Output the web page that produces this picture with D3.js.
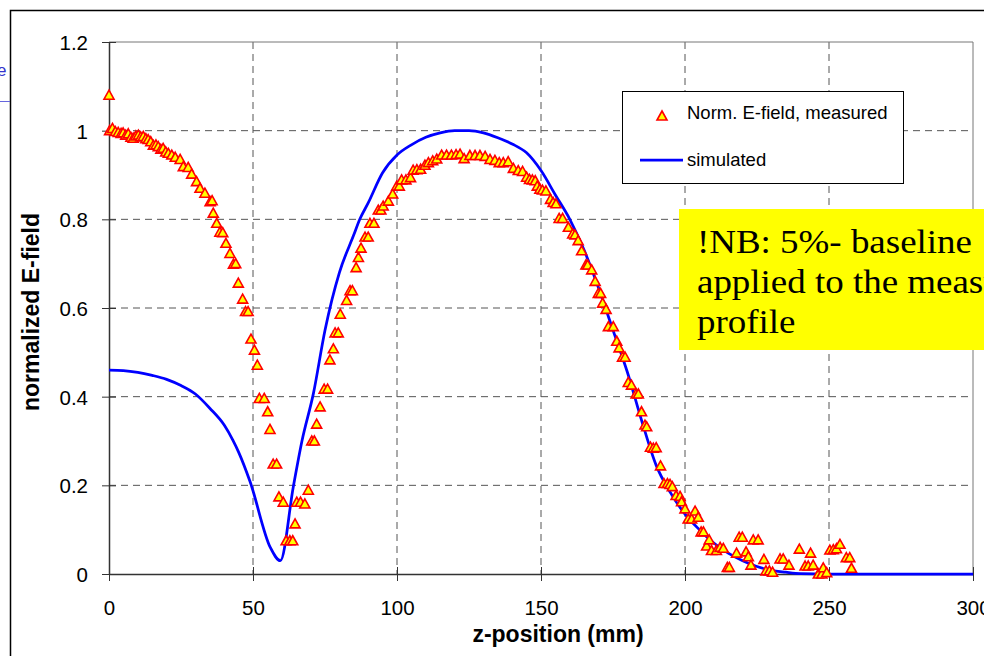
<!DOCTYPE html>
<html><head><meta charset="utf-8">
<script src="https://cdn.jsdelivr.net/npm/d3@7"></script>
<style>body{margin:0;background:#fff}svg{display:block}</style>
</head><body>
<svg id="c" width="984" height="656"></svg>
<script>
// ---- data ----
const xTicks = [0, 50, 100, 150, 200, 250, 300];
const yTicks = [0, 0.2, 0.4, 0.6, 0.8, 1, 1.2];
const yTickLabels = ["0", "0.2", "0.4", "0.6", "0.8", "1", "1.2"];
const seriesNames = ["Norm. E-field, measured", "simulated"];

const simZ = [0, 5, 10, 15, 20, 25, 30, 35, 40, 43, 45, 49, 56, 59.5, 64, 67, 71, 75, 80, 85, 87, 90, 95, 100, 105, 110, 115, 120, 125, 130, 135, 140, 145, 150, 155, 160, 165, 170, 175, 180, 185, 190, 195, 200, 205, 210, 215, 220, 225, 230, 235, 240, 250, 300];
const simE = [0.46, 0.459, 0.455, 0.448, 0.439, 0.425, 0.406, 0.374, 0.336, 0.302, 0.275, 0.208, 0.06, 0.03, 0.197, 0.3, 0.408, 0.55, 0.68, 0.765, 0.799, 0.837, 0.905, 0.945, 0.968, 0.985, 0.995, 1.0, 1.0, 0.995, 0.984, 0.97, 0.95, 0.91, 0.855, 0.8, 0.73, 0.645, 0.55, 0.455, 0.345, 0.245, 0.183, 0.135, 0.1, 0.07, 0.047, 0.03, 0.017, 0.008, 0.004, 0.001, 0, 0];

const measZ = [0, 0.2, 1.2, 2.2, 3.2, 4.2, 4.9, 5.8, 6.7, 7.6, 8.4, 9.3, 10.2, 11.0, 11.9, 12.8, 13.6, 14.5, 15.4, 16.3, 17.1, 18.0, 18.8, 19.7, 20.6, 21.8, 23.0, 24.7, 25.8, 27.5, 28.7, 30.4, 31.6, 33.3, 35.1, 35.8, 36.2, 37.4, 38.5, 39.5, 40.6, 42.0, 43.2, 44.0, 44.9, 46.4, 47.4, 48.3, 49.3, 50.5, 51.5, 52.2, 53.9, 55.1, 55.9, 57.0, 58.2, 59.0, 60.5, 61.5, 62.8, 63.8, 64.6, 65.2, 66.5, 68.0, 69.2, 70.4, 71.3, 72.1, 73.3, 74.7, 75.9, 76.7, 77.9, 78.5, 79.6, 80.3, 82.5, 83.7, 84.5, 85.8, 86.6, 87.5, 88.9, 90.0, 90.6, 92.0, 93.5, 94.4, 95.2, 97.0, 98.5, 99.9, 100.8, 101.6, 103.1, 104.7, 105.6, 106.9, 108.2, 109.7, 110.9, 112.4, 113.8, 115.5, 117.2, 118.9, 120.5, 121.9, 123.3, 125.3, 127.1, 128.8, 130.6, 132.3, 134.0, 135.5, 136.9, 138.6, 140.4, 142.1, 143.6, 145.0, 146.0, 147.0, 148.0, 148.7, 149.6, 150.5, 151.7, 153.3, 154.2, 155.2, 156.3, 157.5, 159.5, 161.0, 161.8, 162.9, 164.1, 165.6, 166.2, 167.6, 168.8, 169.9, 170.7, 171.4, 172.6, 173.4, 175.1, 176.3, 177.1, 178.3, 179.2, 180.3, 181.4, 183.0, 183.8, 184.9, 186.1, 186.7, 188.0, 189.0, 190.0, 191.5, 192.7, 193.9, 194.8, 195.6, 196.9, 198.3, 198.8, 200.0, 201.1, 202.3, 203.5, 204.6, 205.6, 206.4, 207.5, 208.4, 209.2, 210.9, 212.2, 213.3, 214.7, 215.4, 217.9, 218.8, 219.9, 221.2, 222.0, 222.9, 223.7, 225.4, 227.4, 228.1, 229.3, 230.4, 233.0, 234.1, 236.1, 239.7, 241.7, 242.8, 243.6, 244.5, 246.3, 247.5, 248.0, 249.2, 250.3, 251.5, 252.6, 253.8, 256.0, 257.2, 257.8];
const measE = [1.080, 1.000, 1.005, 0.998, 0.996, 0.994, 0.995, 0.990, 0.993, 0.985, 0.983, 0.988, 0.990, 0.986, 0.987, 0.982, 0.980, 0.975, 0.967, 0.968, 0.964, 0.958, 0.960, 0.952, 0.949, 0.945, 0.940, 0.935, 0.919, 0.917, 0.902, 0.885, 0.870, 0.859, 0.840, 0.842, 0.814, 0.791, 0.771, 0.770, 0.746, 0.723, 0.699, 0.700, 0.656, 0.620, 0.592, 0.592, 0.530, 0.505, 0.471, 0.396, 0.396, 0.366, 0.326, 0.248, 0.248, 0.174, 0.162, 0.075, 0.075, 0.075, 0.113, 0.162, 0.162, 0.158, 0.189, 0.300, 0.300, 0.338, 0.377, 0.417, 0.417, 0.483, 0.508, 0.544, 0.544, 0.586, 0.617, 0.639, 0.639, 0.691, 0.714, 0.735, 0.760, 0.760, 0.791, 0.791, 0.821, 0.821, 0.830, 0.841, 0.857, 0.875, 0.875, 0.889, 0.889, 0.894, 0.911, 0.912, 0.913, 0.922, 0.928, 0.932, 0.936, 0.945, 0.945, 0.945, 0.946, 0.947, 0.937, 0.944, 0.944, 0.944, 0.942, 0.935, 0.933, 0.928, 0.928, 0.930, 0.915, 0.910, 0.908, 0.895, 0.890, 0.889, 0.887, 0.875, 0.868, 0.866, 0.864, 0.845, 0.838, 0.835, 0.802, 0.802, 0.782, 0.767, 0.765, 0.752, 0.729, 0.697, 0.697, 0.686, 0.660, 0.633, 0.633, 0.611, 0.597, 0.558, 0.558, 0.525, 0.510, 0.489, 0.489, 0.432, 0.426, 0.406, 0.406, 0.366, 0.336, 0.332, 0.286, 0.284, 0.285, 0.244, 0.204, 0.204, 0.202, 0.197, 0.177, 0.175, 0.163, 0.147, 0.124, 0.124, 0.142, 0.128, 0.095, 0.095, 0.063, 0.077, 0.053, 0.053, 0.060, 0.058, 0.015, 0.015, 0.047, 0.083, 0.083, 0.050, 0.039, 0.020, 0.077, 0.077, 0.033, 0.007, 0.007, 0.004, 0.034, 0.034, 0.020, 0.056, 0.018, 0.018, 0.047, 0.020, 0.000, 0.000, 0.014, 0.003, 0.054, 0.055, 0.057, 0.067, 0.037, 0.037, 0.013];

const noteLines = ["!NB: 5%- baseline", "applied to the measured", "profile"];
const xTitle = "z-position (mm)";
const yTitle = "normalized E-field";

// ---- drawing ----
const svg = d3.select("#c");
const sans = "'Liberation Sans', Arial, sans-serif";
const serif = "'Liberation Serif', 'Times New Roman', serif";

const x = d3.scaleLinear().domain([0, 300]).range([109, 973]);
const y = d3.scaleLinear().domain([0, 1.2]).range([574, 42]);

// outer chart border
svg.append("rect").attr("x", 10.5).attr("y", 10.5).attr("width", 1100).attr("height", 800)
  .attr("fill", "#fff").attr("stroke", "#000").attr("stroke-width", 1.5);

// stray fragment at far left
svg.append("text").attr("x", -3).attr("y", 76).attr("fill", "#3333cc")
  .style("font-family", sans).style("font-size", "17px").text("e");
svg.append("line").attr("x1", 0).attr("x2", 10).attr("y1", 101.5).attr("y2", 101.5)
  .attr("stroke", "#6666dd").attr("stroke-width", 1);

// grid
const g = svg.append("g");
g.selectAll(".vg").data(xTicks.filter(d => d > 0 && d < 300)).join("line")
  .attr("x1", d => x(d)).attr("x2", d => x(d)).attr("y1", y(1.2)).attr("y2", y(0))
  .attr("stroke", "#555").attr("stroke-width", 1).attr("stroke-dasharray", "7,5");
g.selectAll(".hg").data(yTicks.filter(d => d > 0 && d < 1.2)).join("line")
  .attr("x1", x(0)).attr("x2", x(300)).attr("y1", d => y(d)).attr("y2", d => y(d))
  .attr("stroke", "#555").attr("stroke-width", 1).attr("stroke-dasharray", "7,5");
// plot border top / right
g.append("line").attr("x1", x(0)).attr("x2", x(300)).attr("y1", y(1.2)).attr("y2", y(1.2)).attr("stroke", "#777");
g.append("line").attr("x1", x(300)).attr("x2", x(300)).attr("y1", y(1.2)).attr("y2", y(0)).attr("stroke", "#777");

// axes
const xAxis = d3.axisBottom(x).tickValues(xTicks).tickSize(0).tickPadding(0).tickFormat(d3.format("d"));
const xa = svg.append("g").attr("transform", `translate(0,${y(0)})`).call(xAxis);
xa.select(".domain").attr("stroke", "#333").attr("stroke-width", 1.5);
xa.selectAll(".tick line").attr("y1", -7).attr("y2", 7).attr("stroke", "#333");
xa.selectAll(".tick text").attr("y", 41).attr("dy", 0).style("font-family", sans).style("font-size", "20.5px").attr("fill", "#000");

const yAxis = d3.axisLeft(y).tickValues(yTicks).tickSize(0).tickPadding(0).tickFormat((d, i) => yTickLabels[i]);
const ya = svg.append("g").attr("transform", `translate(${x(0)},0)`).call(yAxis);
ya.select(".domain").attr("stroke", "#333").attr("stroke-width", 1.5);
ya.selectAll(".tick line").attr("x1", -7).attr("x2", 7).attr("stroke", "#333");
ya.selectAll(".tick text").attr("x", -21).attr("dy", "0.36em").style("font-family", sans).style("font-size", "20.5px").attr("fill", "#000");

// axis titles
svg.append("text").attr("x", 558).attr("y", 642).attr("text-anchor", "middle")
  .style("font-family", sans).style("font-size", "23px").style("font-weight", "bold").text(xTitle);
svg.append("text").attr("transform", "translate(39,312) rotate(-90)").attr("text-anchor", "middle")
  .style("font-family", sans).style("font-size", "23px").style("font-weight", "bold").text(yTitle);

// simulated line
const line = d3.line().x((d, i) => x(simZ[i])).y((d, i) => y(simE[i])).curve(d3.curveMonotoneX);
svg.append("path").attr("d", line(simZ)).attr("fill", "none").attr("stroke", "#0000ff").attr("stroke-width", 2.75);

// measured points
const tri = "M0,-5L5,4L-5,4Z";
svg.append("g").selectAll("path").data(measZ).join("path")
  .attr("transform", (d, i) => `translate(${x(d)},${y(measE[i])})`)
  .attr("d", tri).attr("fill", "#ffff00").attr("stroke", "#ff0000").attr("stroke-width", 1.6).attr("stroke-linejoin", "miter");

// legend
const lg = svg.append("g");
lg.append("rect").attr("x", 622.5).attr("y", 91.5).attr("width", 281).attr("height", 92)
  .attr("fill", "#fff").attr("stroke", "#000").attr("stroke-width", 1);
lg.append("path").attr("transform", "translate(662,116)").attr("d", tri)
  .attr("fill", "#ffff00").attr("stroke", "#ff0000").attr("stroke-width", 1.6);
lg.append("text").attr("x", 687).attr("y", 119).style("font-family", sans).style("font-size", "18.5px").text(seriesNames[0]);
lg.append("line").attr("x1", 640).attr("x2", 683).attr("y1", 160).attr("y2", 160).attr("stroke", "#0000ff").attr("stroke-width", 2.75);
lg.append("text").attr("x", 687).attr("y", 166).style("font-family", sans).style("font-size", "18.5px").text(seriesNames[1]);

// note box
const nb = svg.append("g");
nb.append("rect").attr("x", 679).attr("y", 209).attr("width", 400).attr("height", 141).attr("fill", "#ffff00");
nb.append("g").attr("transform", "translate(697,0) scale(1.12,1)")
  .selectAll("text").data(noteLines).join("text")
  .attr("x", 0).attr("y", (d, i) => 253 + i * 40)
  .style("font-family", serif).style("font-size", "33px").attr("fill", "#000").text(d => d);
</script>
</body></html>
